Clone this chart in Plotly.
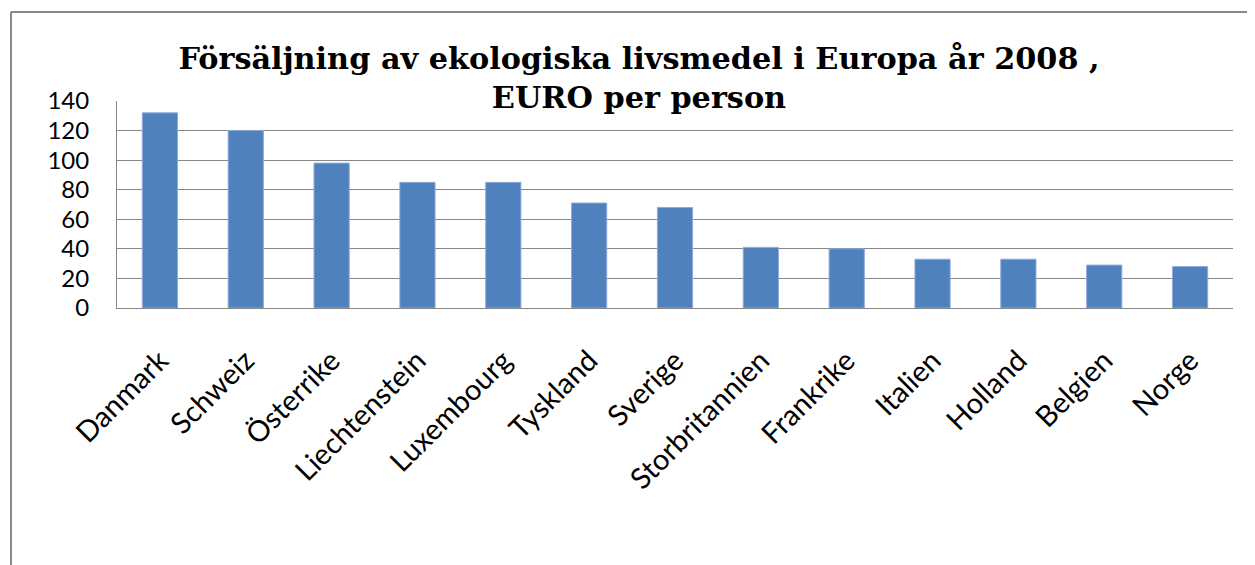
import plotly.graph_objects as go

countries = ["Danmark", "Schweiz", "Österrike", "Liechtenstein", "Luxembourg",
             "Tyskland", "Sverige", "Storbritannien", "Frankrike", "Italien",
             "Holland", "Belgien", "Norge"]
euro_per_person = [132, 120, 98, 85, 85, 71, 68, 41, 40, 33, 33, 29, 28]
y_ticks = [0, 20, 40, 60, 80, 100, 120, 140]

title_text = "Försäljning av ekologiska livsmedel i Europa år 2008 ,<br>EURO per person"

# the page body adds an 8px margin, so the figure is a bit smaller
W, H = 1247, 557
L, R, T, B = 109, 22, 93, 257

fig = go.Figure()
fig.add_trace(go.Bar(
    x=countries, y=euro_per_person,
    marker=dict(color="#4F81BD", line=dict(color="#8EAADB", width=1)),
))

fig.update_layout(
    width=W, height=H,
    margin=dict(l=L, r=R, t=T, b=B, pad=0),
    paper_bgcolor="white", plot_bgcolor="white",
    bargap=0.59,
    showlegend=False,
    title=dict(text=title_text, x=631 / W, xanchor="center", xref="container",
               y=1 - 61 / H, yanchor="top", yref="container",
               font=dict(family="DejaVu Serif", size=30.3, color="black", weight="bold")),
    font=dict(family="Lato", size=24, color="black"),
)
fig.update_yaxes(range=[0, 140], tickvals=y_ticks, showgrid=True, gridcolor="#878787", gridwidth=1,
                 showline=True, linecolor="#878787", linewidth=1, zeroline=False,
                 ticks="", ticklabelstandoff=22, tickfont=dict(family="Lato", size=24))
fig.update_xaxes(showline=True, linecolor="#878787", linewidth=1, tickangle=-45, ticks="",
                 ticklabelstandoff=23, tickfont=dict(family="Lato", size=29))

# outer chart border (top and left visible)
pw = W - L - R
ph = H - T - B
def px_x(x):
    return (x - L) / pw
def px_y(y):
    return 1 - (y - T) / ph
fig.add_shape(type="line", xref="paper", yref="paper", x0=px_x(3), x1=px_x(1260), y0=px_y(4), y1=px_y(4),
              line=dict(color="#8a8a8a", width=2))
fig.add_shape(type="line", xref="paper", yref="paper", x0=px_x(3), x1=px_x(3), y0=px_y(4), y1=px_y(570),
              line=dict(color="#8a8a8a", width=2))

fig.write_html("out.html")
